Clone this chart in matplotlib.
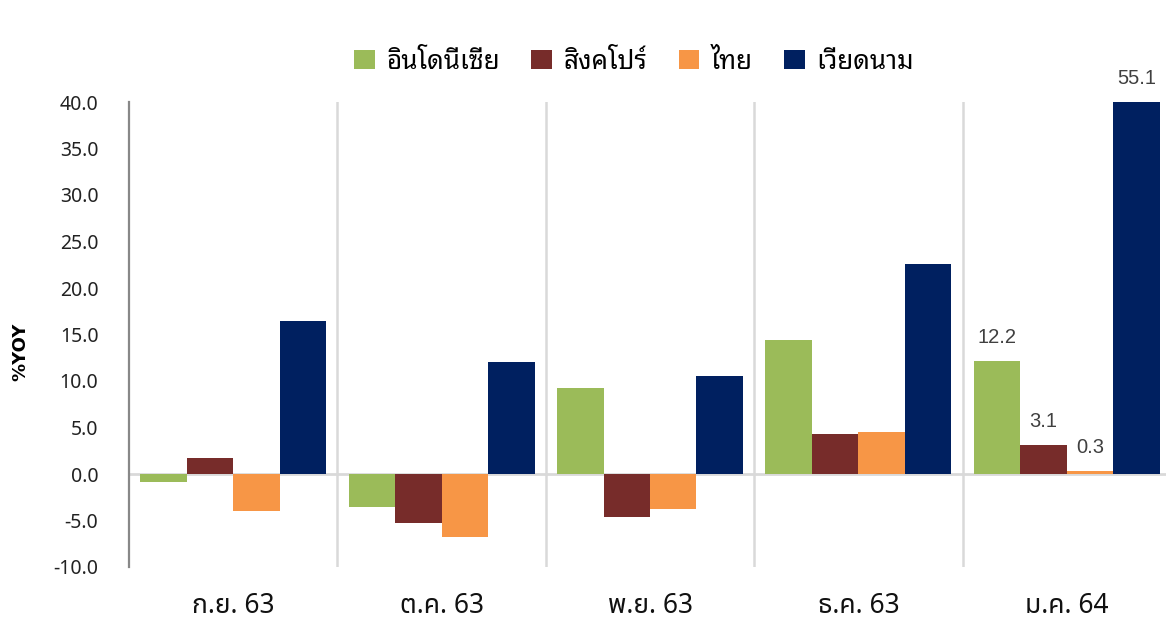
import matplotlib
matplotlib.use("Agg")
import matplotlib.pyplot as plt
import numpy as np

categories = ["ก.ย. 63", "ต.ค. 63", "พ.ย. 63", "ธ.ค. 63", "ม.ค. 64"]
series_names = ["อินโดนีเซีย", "สิงคโปร์", "ไทย", "เวียดนาม"]
indonesia = [-0.9, -3.6, 9.2, 14.4, 12.2]
singapore = [1.7, -5.3, -4.6, 4.3, 3.1]
thailand = [-4.0, -6.8, -3.8, 4.5, 0.3]
vietnam = [16.5, 12.0, 10.5, 22.6, 55.1]
yticks = [-10, -5, 0, 5, 10, 15, 20, 25, 30, 35, 40]
colors = ["#9BBB59", "#772C2A", "#F79646", "#002060"]

THAI_LOOPED = ["Noto Sans Thai Looped", "Sarabun", "DejaVu Sans"]
THAI_PLAIN = ["Noto Sans Thai", "Sarabun", "DejaVu Sans"]
NUM = ["Noto Sans", "DejaVu Sans"]

fig = plt.figure(figsize=(11.66, 6.24), dpi=100)
ax = fig.add_axes([129/1166, 1 - 567/624, 1042/1166, 465/624])

x = np.arange(len(categories))
w = 0.223
data = [indonesia, singapore, thailand, vietnam]
for i, (vals, c, name) in enumerate(zip(data, colors, series_names)):
    ax.bar(x + (i - 1.5) * w, vals, width=w, color=c, label=name, zorder=3)

ax.set_xlim(-0.5, len(categories) - 0.5)
ax.set_ylim(-10, 40)
ax.set_yticks(yticks)
ax.set_yticklabels([f"{v:.1f}" for v in yticks], family=NUM, fontsize=14, color="#222222")
ax.set_xticks(x)
ax.set_xticklabels(categories, family=THAI_PLAIN, fontsize=19, color="#111111")
ax.tick_params(axis="y", length=0, pad=22)
ax.tick_params(axis="x", length=0, pad=18)

for s in ["top", "right", "bottom"]:
    ax.spines[s].set_visible(False)
ax.spines["left"].set_color("#888888")
ax.spines["left"].set_linewidth(1.6)

ax.axhline(0, color="#D9D9D9", lw=2, zorder=2)
for sx in np.arange(0.5, len(categories) - 0.5, 1.0):
    ax.axvline(sx, color="#D9D9D9", lw=1.8, zorder=1)

ax.set_ylabel("%YOY", family=["DejaVu Sans"], fontsize=13, fontweight="bold")
ax.yaxis.set_label_coords((29 - 129) / 1042, (567 - 352) / 465)

# data labels for last category
last = len(categories) - 1
for i, vals in enumerate(data):
    v = vals[last]
    xp = x[last] + (i - 1.5) * w
    yp = min(v, 40)
    ax.annotate(f"{v:.1f}", (xp, yp), xytext=(0, 10), textcoords="offset points",
                ha="center", va="bottom", fontsize=14.5, color="#404040",
                family=["Liberation Sans", "DejaVu Sans"], annotation_clip=False)

fig.legend(loc="center", bbox_to_anchor=(634/1166, 1 - 62/624), ncol=4, frameon=False,
           prop={"family": THAI_LOOPED, "size": 18.7}, handlelength=0.8, handleheight=0.8,
           handletextpad=0.45, columnspacing=1.2)

fig.savefig("out.png", dpi=100)
